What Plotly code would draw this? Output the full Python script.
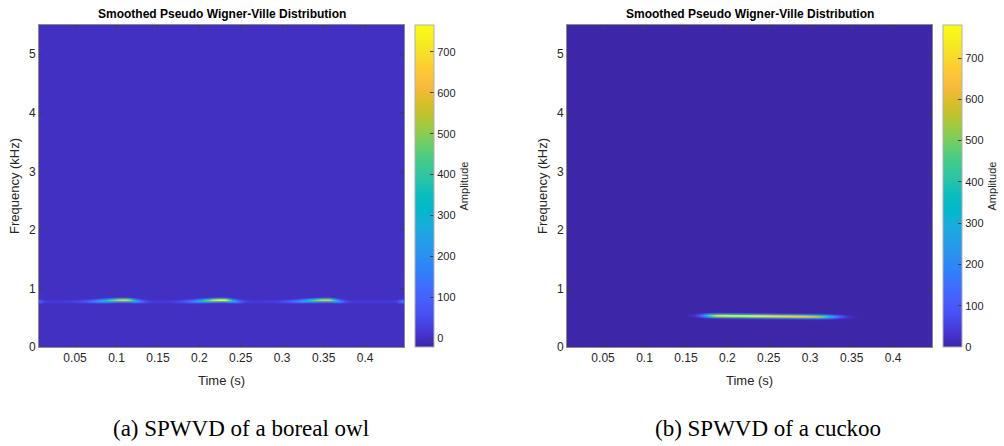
import numpy as np
import plotly.graph_objects as go

W, H = 1004, 446

# ---- data ----
time_range = [0.0065, 0.447]          # s
freq_range = [0.0, 5.5]               # kHz
x_ticks = [0.05, 0.1, 0.15, 0.2, 0.25, 0.3, 0.35, 0.4]
x_tick_labels = ["0.05", "0.1", "0.15", "0.2", "0.25", "0.3", "0.35", "0.4"]
y_ticks = [0, 1, 2, 3, 4, 5]
cbar_ticks = [0, 100, 200, 300, 400, 500, 600, 700]

# boreal owl: three hoots
owl_peak_time = [0.111, 0.228, 0.355]
owl_freq = [0.79, 0.79, 0.79]
owl_amp = [660, 766, 640]
owl_sigma_left = [0.022, 0.020, 0.022]
owl_sigma_right = [0.010, 0.010, 0.009]
owl_line_freq = 0.775
owl_line_amp = 22
owl_edge_amp = [90, 150]
owl_zrange = [-22, 766]

# cuckoo: one call
cuckoo_start = [0.176]
cuckoo_end = [0.326]
cuckoo_freq_start = [0.535]
cuckoo_freq_end = [0.515]
cuckoo_amp = [780]
cuckoo_zrange = [0, 780]

# ---- grids ----
t = np.linspace(time_range[0], time_range[1], 450)
f = np.concatenate([np.arange(0.0, 0.3, 0.05), np.arange(0.3, 1.2, 0.005), np.arange(1.2, 5.55, 0.1)])
T, F = np.meshgrid(t, f)

Z_owl = np.zeros_like(T)
line = np.exp(-0.5 * ((F - owl_line_freq) / 0.02) ** 2)
Z_owl += owl_line_amp * line
Z_owl += owl_edge_amp[0] * np.exp(-0.5 * ((T - time_range[0]) / 0.003) ** 2) * line
Z_owl += owl_edge_amp[1] * np.exp(-0.5 * ((T - time_range[1]) / 0.004) ** 2) * line
for pt, fc, a, sl, sr in zip(owl_peak_time, owl_freq, owl_amp, owl_sigma_left, owl_sigma_right):
    sig = np.where(T < pt, sl, sr)
    prof = np.exp(-0.5 * ((T - pt) / sig) ** 2)
    ridge = fc - 0.015 + 0.025 * prof
    Z_owl += a * prof * np.exp(-0.5 * ((F - ridge) / 0.019) ** 2)

Z_cu = np.zeros_like(T)
for t0, t1, f0, f1, a in zip(cuckoo_start, cuckoo_end, cuckoo_freq_start, cuckoo_freq_end, cuckoo_amp):
    prof = 1 / (1 + np.exp(-(T - t0) / 0.005)) * 1 / (1 + np.exp(-(t1 - T) / 0.007))
    prof *= (1.0 - 0.25 * np.clip((T - 0.23) / 0.12, 0, 1))
    ridge = f0 + (f1 - f0) * np.clip((T - t0) / (t1 - t0), 0, 1)
    Z_cu += a * prof * np.exp(-0.5 * ((F - ridge) / 0.02) ** 2)

Z_owl = np.round(Z_owl, 1)
Z_cu = np.round(Z_cu, 1)

parula = [
    [0.2422, 0.1504, 0.6603], [0.2706, 0.2147, 0.8364], [0.2813, 0.3006, 0.9414],
    [0.2760, 0.3667, 0.9829], [0.2440, 0.4358, 0.9988], [0.1834, 0.5074, 0.9798],
    [0.1687, 0.5703, 0.9359], [0.1380, 0.6276, 0.8973], [0.0952, 0.6798, 0.8598],
    [0.0036, 0.7203, 0.7917], [0.0433, 0.7411, 0.7394], [0.1717, 0.7670, 0.6554],
    [0.2470, 0.7918, 0.5567], [0.3909, 0.8029, 0.4354], [0.5616, 0.7942, 0.3045],
    [0.7242, 0.7698, 0.1910], [0.8634, 0.7406, 0.1596], [0.9728, 0.7298, 0.2394],
    [0.9952, 0.7893, 0.2028], [0.9676, 0.8639, 0.1643], [0.9628, 0.9373, 0.1265],
    [0.9769, 0.9839, 0.0805]]
n = len(parula)
cscale = [[i / (n - 1), "rgb(%d,%d,%d)" % tuple(int(round(c * 255)) for c in col)] for i, col in enumerate(parula)]

# ---- layout geometry (pixels) ----
panels = [
    dict(x0=39, x1=404, cb=415, z=Z_owl, zr=owl_zrange),
    dict(x0=567, x1=932, cb=943, z=Z_cu, zr=cuckoo_zrange),
]
top, bot = 25, 347
ydom = [1 - bot / H, 1 - top / H]

fig = go.Figure()
txt = "#262626"
font = "Liberation Sans, Arial, sans-serif"

for i, p in enumerate(panels):
    k = "" if i == 0 else str(i + 1)
    fig.add_trace(go.Heatmap(
        x=t, y=f, z=p["z"], colorscale=cscale, zmin=p["zr"][0], zmax=p["zr"][1],
        xaxis="x" + k, yaxis="y" + k, hoverinfo="skip",
        colorbar=dict(
            x=p["cb"] / W, xanchor="left", xpad=0, ypad=0,
            y=1 - (top + bot) / 2 / H, yanchor="middle",
            lenmode="pixels", len=bot - top, thickness=19,
            outlinecolor="#b0b0b0", outlinewidth=1,
            tickvals=cbar_ticks, ticks="inside", ticklen=4, tickcolor="#404040",
            tickfont=dict(size=11, color=txt, family=font),
            title=dict(text="Amplitude", side="right", font=dict(size=11, color=txt, family=font)),
        ),
    ))
    axstyle = dict(showgrid=False, zeroline=False, ticks="inside", ticklen=4, tickcolor="#404040",
                   showline=True, linecolor="#8a8a8a", linewidth=1, mirror="ticks", automargin=False,
                   tickfont=dict(size=12, color=txt, family=font))
    fig.layout["xaxis" + k] = dict(
        domain=[p["x0"] / W, p["x1"] / W], range=time_range, anchor="y" + k,
        tickvals=x_ticks, ticktext=x_tick_labels, **axstyle)
    fig.layout["yaxis" + k] = dict(
        domain=ydom, range=freq_range, anchor="x" + k, tickvals=y_ticks, **axstyle)
    cx = (p["x0"] + p["x1"]) / 2 / W
    fig.add_annotation(x=cx, y=1 - 14 / H, xref="paper", yref="paper",
                       text="<b>Smoothed Pseudo Wigner-Ville Distribution</b>", showarrow=False,
                       font=dict(size=12, color="#000000", family=font), xanchor="center", yanchor="middle")
    fig.add_annotation(x=cx, y=1 - 380 / H, xref="paper", yref="paper", text="Time (s)", showarrow=False,
                       font=dict(size=13, color=txt, family=font), xanchor="center", yanchor="middle")
    fig.add_annotation(x=(p["x0"] - 25) / W, y=1 - (top + bot) / 2 / H, xref="paper", yref="paper",
                       text="Frequency (kHz)", textangle=-90, showarrow=False,
                       font=dict(size=13, color=txt, family=font), xanchor="center", yanchor="middle")

captions = ["(a) SPWVD of a boreal owl", "(b) SPWVD of a cuckoo"]
cap_x = [241, 768]
for c, cx in zip(captions, cap_x):
    fig.add_annotation(x=cx / W, y=1 - 428 / H, xref="paper", yref="paper", text=c, showarrow=False,
                       font=dict(size=23, color="#000000", family="Liberation Serif, Times New Roman, serif"),
                       xanchor="center", yanchor="middle")

fig.update_layout(width=W, height=H, margin=dict(l=0, r=0, t=0, b=0),
                  paper_bgcolor="white", plot_bgcolor="white", showlegend=False)
fig.write_html("out.html")
